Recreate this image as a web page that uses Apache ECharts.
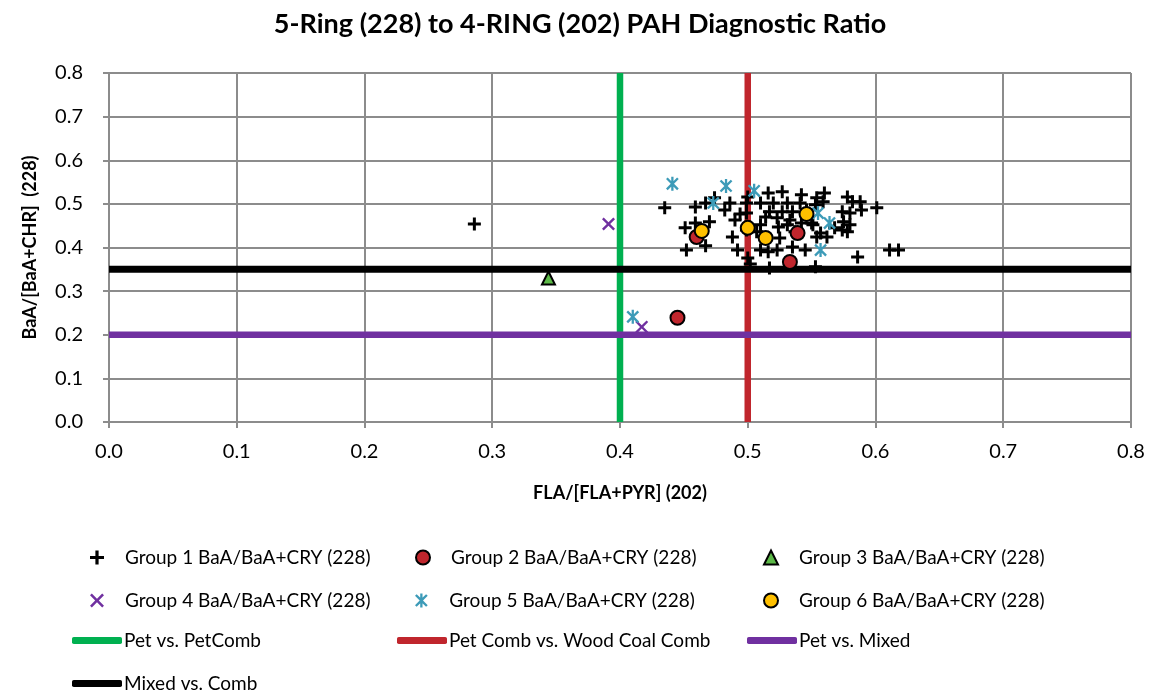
<!DOCTYPE html>
<html>
<head>
<meta charset="utf-8">
<script src="https://cdn.jsdelivr.net/npm/echarts@6/dist/echarts.min.js"></script>
<style>html,body{margin:0;padding:0;background:#fff}#c{width:1160px;height:698px}</style>
</head>
<body>
<div id="c"></div>
<script>
const titleText = '5-Ring (228) to 4-RING (202) PAH Diagnostic Ratio';
const xName = 'FLA/[FLA+PYR] (202)';
const yName = 'BaA/[BaA+CHR]  (228)';
const xTicks = [0, 0.1, 0.2, 0.3, 0.4, 0.5, 0.6, 0.7, 0.8];
const yTicks = [0, 0.1, 0.2, 0.3, 0.4, 0.5, 0.6, 0.7, 0.8];

const seriesNames = [
  'Group 1 BaA/BaA+CRY (228)', 'Group 2 BaA/BaA+CRY (228)', 'Group 3 BaA/BaA+CRY (228)',
  'Group 4 BaA/BaA+CRY (228)', 'Group 5 BaA/BaA+CRY (228)', 'Group 6 BaA/BaA+CRY (228)',
  'Pet vs. PetComb', 'Pet Comb vs. Wood Coal Comb', 'Pet vs. Mixed', 'Mixed vs. Comb'
];

const g1x = [0.286,0.435,0.459,0.467,0.474,0.482,0.486,0.451,0.459,0.470,0.490,0.488,0.452,0.467,0.492,
  0.499,0.499,0.500,0.516,0.527,0.542,0.554,0.510,0.520,0.531,0.541,0.517,0.527,0.535,0.546,
  0.514,0.523,0.533,0.510,0.524,0.531,0.542,0.550,0.510,0.516,0.523,0.535,0.545,0.500,0.502,
  0.517,0.560,0.559,0.578,0.582,0.588,0.589,0.601,0.574,0.580,0.575,0.580,0.568,0.574,0.578,
  0.557,0.562,0.554,0.586,0.611,0.618,0.553,0.551,0.499,0.494,0.553,0.537,0.525,0.507];
const g1y = [0.454,0.491,0.493,0.502,0.514,0.486,0.502,0.445,0.456,0.459,0.463,0.424,0.394,0.404,0.394,
  0.502,0.479,0.516,0.525,0.528,0.521,0.514,0.502,0.502,0.502,0.502,0.482,0.482,0.482,0.486,
  0.470,0.468,0.463,0.452,0.447,0.452,0.456,0.456,0.394,0.390,0.394,0.401,0.394,0.376,0.362,
  0.353,0.525,0.505,0.516,0.505,0.505,0.486,0.491,0.482,0.479,0.459,0.452,0.445,0.440,0.436,
  0.433,0.424,0.424,0.378,0.394,0.394,0.356,0.452,0.440,0.477,0.498,0.436,0.422,0.436];
const g2x = [0.460, 0.445, 0.539, 0.533];
const g2y = [0.424, 0.239, 0.433, 0.367];
const g3x = [0.344];
const g3y = [0.330];
const g4x = [0.391, 0.417];
const g4y = [0.454, 0.218];
const g5x = [0.441, 0.483, 0.473, 0.505, 0.410, 0.555, 0.564, 0.557];
const g5y = [0.546, 0.541, 0.502, 0.530, 0.241, 0.479, 0.456, 0.394];
const g6x = [0.464, 0.500, 0.514, 0.546];
const g6y = [0.438, 0.445, 0.422, 0.477];

const petPetCombX = [0.4, 0.4];
const petPetCombY = [0, 0.8];
const petCombWoodX = [0.5, 0.5];
const petCombWoodY = [0, 0.8];
const petMixedX = [0, 0.8];
const petMixedY = [0.2, 0.2];
const mixedCombX = [0, 0.8];
const mixedCombY = [0.35, 0.35];

const zip = (xs, ys) => xs.map((v, i) => [v, ys[i]]);
const FONT = 'Lato';

const plusPath = 'path://M3.85,0H6.15V3.85H10V6.15H6.15V10H3.85V6.15H0V3.85H3.85Z';
const crossPath = 'path://M0,1.3L1.3,0L5,3.7L8.7,0L10,1.3L6.3,5L10,8.7L8.7,10L5,6.3L1.3,10L0,8.7L3.7,5Z';
const starPath = 'path://M0,1.3L1.3,0L5,3.7L8.7,0L10,1.3L6.3,5L10,8.7L8.7,10L5,6.3L1.3,10L0,8.7L3.7,5Z' +
  'M4.1,-0.5L5.9,-0.5L5.9,10.5L4.1,10.5Z';

function scatter(name, xs, ys, opt) {
  return Object.assign({ type: 'scatter', name, data: zip(xs, ys), z: 5, symbolKeepAspect: true,
    emphasis: { disabled: true } }, opt);
}
function line(name, xs, ys, color, width, z) {
  return { type: 'line', name, data: zip(xs, ys), symbol: 'none', z: z,
    lineStyle: { color, width, cap: 'butt' }, itemStyle: { color } };
}

const c1 = '#000000', c2 = '#c0262d', c3 = '#5cb947', c4 = '#7030a0', c5 = '#3d9bb8', c6 = '#ffc000';
const series = [
  line(seriesNames[6], petPetCombX, petPetCombY, '#00b050', 6.5, 1),
  line(seriesNames[7], petCombWoodX, petCombWoodY, '#c0262d', 6.5, 2),
  line(seriesNames[8], petMixedX, petMixedY, '#7030a0', 6.5, 3),
  line(seriesNames[9], mixedCombX, mixedCombY, '#000000', 7, 4),
  scatter(seriesNames[0], g1x, g1y, { symbol: plusPath, symbolSize: 13, itemStyle: { color: c1, opacity: 1 } }),
  scatter(seriesNames[3], g4x, g4y, { symbol: crossPath, symbolSize: 13, itemStyle: { color: c4, opacity: 1 } }),
  scatter(seriesNames[4], g5x, g5y, { symbol: starPath, symbolSize: 14, itemStyle: { color: c5, opacity: 1 } }),
  scatter(seriesNames[2], g3x, g3y, { symbol: 'triangle', symbolSize: 13,
    itemStyle: { color: c3, borderColor: '#000', borderWidth: 2, opacity: 1 } }),
  scatter(seriesNames[1], g2x, g2y, { symbol: 'circle', symbolSize: 14,
    itemStyle: { color: c2, borderColor: '#000', borderWidth: 2, opacity: 1 } }),
  scatter(seriesNames[5], g6x, g6y, { symbol: 'circle', symbolSize: 14,
    itemStyle: { color: c6, borderColor: '#000', borderWidth: 2, opacity: 1 } })
];

const legendIcons = [plusPath, 'circle', 'triangle', crossPath, starPath, 'circle'];
function legS(i, markerX, top) {
  return {
    data: [{ name: seriesNames[i], icon: legendIcons[i] }], left: markerX - 7, top,
    selectedMode: false, padding: 0, itemWidth: 14, itemHeight: 14,
    textStyle: { fontFamily: FONT, fontSize: 19, color: '#000', padding: [0, 0, 0, 16] }
  };
}
function legL(i, left, top) {
  return {
    data: [{ name: seriesNames[i], icon: 'roundRect' }], left, top,
    selectedMode: false, padding: 0, itemWidth: 50, itemHeight: 7,
    textStyle: { fontFamily: FONT, fontSize: 19, color: '#000', padding: [0, 0, 0, -3] }
  };
}
const legends = [
  legS(0, 97, 548), legS(1, 422, 548), legS(2, 770, 548),
  legS(3, 97, 591), legS(4, 422, 591), legS(5, 770, 591),
  legL(6, 72, 631), legL(7, 397, 631), legL(8, 747, 631),
  legL(9, 72, 674)
];

const axisGray = '#8c8c8c';
const chart = echarts.init(document.getElementById('c'), null, { renderer: 'canvas' });
chart.setOption({
  animation: false,
  backgroundColor: '#fff',
  title: { text: titleText, left: 'center', top: 6,
    textStyle: { fontFamily: FONT, fontSize: 27, fontWeight: 'bold', color: '#000' } },
  legend: legends,
  grid: { left: 109, right: 29, top: 73, bottom: 276, containLabel: false },
  xAxis: {
    type: 'value', min: xTicks[0], max: xTicks[xTicks.length - 1], interval: 0.1,
    name: xName, nameLocation: 'middle', nameGap: 62,
    nameTextStyle: { fontFamily: FONT, fontSize: 18, fontWeight: 'bold', color: '#000' },
    axisLine: { show: true, lineStyle: { color: axisGray, width: 2 } },
    axisTick: { show: true, length: 6, lineStyle: { color: axisGray, width: 2 } },
    splitLine: { show: true, lineStyle: { color: axisGray, width: 2 } },
    axisLabel: { fontFamily: FONT, fontSize: 20, color: '#000', margin: 20,
      formatter: v => v.toFixed(1) }
  },
  yAxis: {
    type: 'value', min: yTicks[0], max: yTicks[yTicks.length - 1], interval: 0.1,
    name: yName, nameLocation: 'middle', nameGap: 70,
    nameTextStyle: { fontFamily: FONT, fontSize: 18, fontWeight: 'bold', color: '#000' },
    axisLine: { show: true, lineStyle: { color: axisGray, width: 2 } },
    axisTick: { show: true, length: 6, lineStyle: { color: axisGray, width: 2 } },
    splitLine: { show: true, lineStyle: { color: axisGray, width: 2 } },
    axisLabel: { fontFamily: FONT, fontSize: 20, color: '#000', margin: 26,
      formatter: v => v.toFixed(1) }
  },
  series
});
</script>
</body>
</html>
